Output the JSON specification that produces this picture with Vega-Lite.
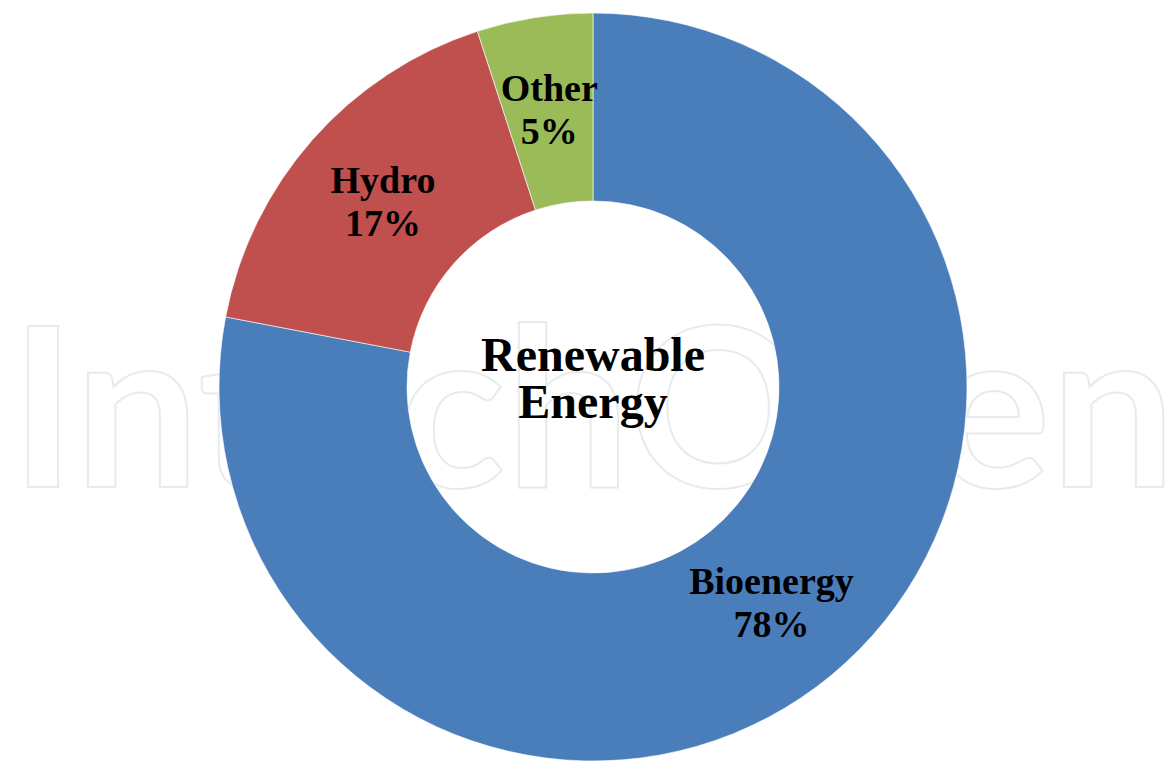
{
  "$schema": "https://vega.github.io/schema/vega-lite/v6.json",
  "autosize": {"type": "fit", "contains": "padding"},
  "width": 1167,
  "height": 761,
  "padding": {"left": 19, "top": 13, "right": 0, "bottom": 0},
  "background": "white",
  "view": {"stroke": null},
  "datasets": {
    "shares": [
      {"source": "Bioenergy", "share": 78, "rank": 1, "label": "Bioenergy\n78%"},
      {"source": "Hydro", "share": 17, "rank": 2, "label": "Hydro\n17%"},
      {"source": "Other", "share": 5, "rank": 3, "label": "Other\n5%"}
    ],
    "center": [{"label": "Renewable\nEnergy"}],
    "watermark": [{"label": "IntechOpen"}]
  },
  "layer": [
    {
      "data": {"name": "watermark"},
      "mark": {"type": "text", "font": "Lato", "fontSize": 222, "fontWeight": "bold", "fillOpacity": 0, "stroke": "#e8ebeb", "strokeWidth": 2, "baseline": "alphabetic", "align": "center", "dy": 100},
      "encoding": {"text": {"field": "label"}}
    },
    {
      "data": {"name": "shares"},
      "mark": {"type": "arc", "radius": 374, "innerRadius": 186, "stroke": "white", "strokeWidth": 0.6},
      "encoding": {
        "theta": {"field": "share", "type": "quantitative", "stack": true},
        "order": {"field": "rank", "type": "quantitative"},
        "color": {
          "field": "source", "type": "nominal",
          "scale": {"domain": ["Bioenergy", "Hydro", "Other"], "range": ["#4A7EBB", "#C0504D", "#9BBB59"]},
          "legend": null
        }
      }
    },
    {
      "data": {"name": "shares"},
      "mark": {"type": "text", "radius": 280, "font": "Liberation Serif", "fontWeight": "bold", "fontSize": 38, "lineHeight": 43, "lineBreak": "\n", "color": "black", "align": "center", "baseline": "middle", "dy": -20},
      "encoding": {
        "theta": {"field": "share", "type": "quantitative", "stack": true},
        "order": {"field": "rank", "type": "quantitative"},
        "detail": {"field": "source", "type": "nominal"},
        "text": {"field": "label"}
      }
    },
    {
      "data": {"name": "center"},
      "mark": {"type": "text", "font": "Liberation Serif", "fontWeight": "bold", "fontSize": 48, "lineHeight": 47, "lineBreak": "\n", "color": "black", "align": "center", "baseline": "middle", "dy": -30},
      "encoding": {"text": {"field": "label"}}
    }
  ]
}
